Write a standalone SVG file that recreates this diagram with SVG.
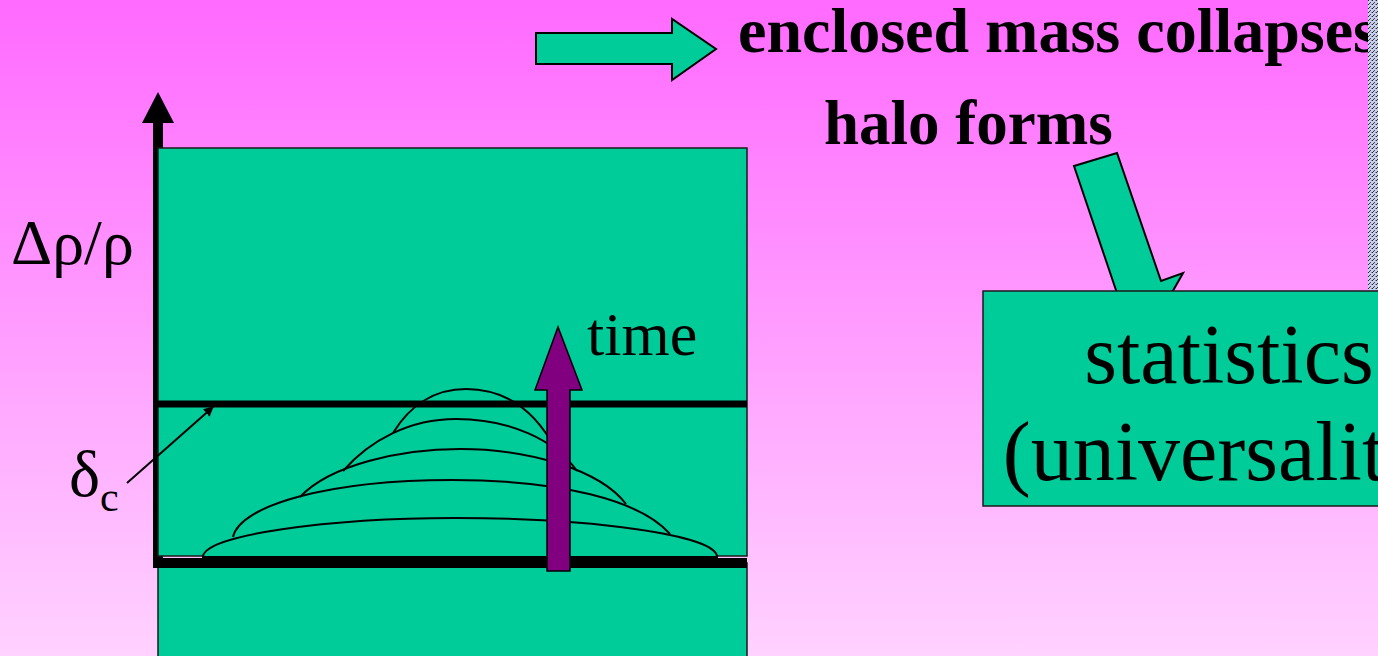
<svg xmlns="http://www.w3.org/2000/svg" width="1378" height="656" viewBox="0 0 1378 656">
<style>
.serif{font-family:"Liberation Serif","Times New Roman",serif;fill:#000}
.bold{font-weight:bold}
.green{fill:#00CC99;stroke:#1a1a1a;stroke-width:1.5}
.mound{fill:none;stroke:#000;stroke-width:2}
</style>
<defs>
<linearGradient id="bg" x1="0" y1="0" x2="0" y2="1">
<stop offset="0" stop-color="#FF6AFF"/>
<stop offset="0.5" stop-color="#FF9CFF"/>
<stop offset="1" stop-color="#FFD2FF"/>
</linearGradient>
<pattern id="dots" width="4" height="4" patternUnits="userSpaceOnUse">
<rect width="4" height="4" fill="#c9cfef"/>
<rect x="0" y="0" width="1" height="1" fill="#222"/>
<rect x="2" y="2" width="1" height="1" fill="#444"/>
<rect x="3" y="0" width="1" height="1" fill="#8890b0"/>
<rect x="1" y="3" width="1" height="1" fill="#333"/>
</pattern>
<marker id="ah" viewBox="0 0 10 10" refX="9" refY="5" markerWidth="10" markerHeight="10" markerUnits="userSpaceOnUse" orient="auto">
<path d="M0,0 L10,5 L0,10 Z" fill="#000"/>
</marker>
</defs>
<rect width="1378" height="656" fill="url(#bg)"/>

<g id="axis">
<line x1="158" y1="120" x2="158" y2="567" stroke="#000" stroke-width="10"/>
<polygon points="142,123 158,92 174,123" fill="#000"/>
</g>

<g id="plot">
<rect class="green" x="158" y="148" width="589" height="408"/>
<rect class="green" x="158" y="563" width="589" height="110"/>
</g>

<g id="mounds">
<path d="M203,557 C203,535 330,518 455,518 C590,518 717,535 717,557 Z" fill="#00CC99" stroke="#000" stroke-width="2"/>
<path class="mound" d="M233,537 C240,505 330,480 452,480 C560,480 640,500 670,534"/>
<path class="mound" d="M300,497 C330,465 400,449 460,449 C530,449 600,470 626,504"/>
<path class="mound" d="M343,471 C370,440 410,419 456,419 C510,419 555,440 577,471"/>
<path class="mound" d="M393,433 C410,405 435,389 466,389 C505,389 535,410 556,450"/>
</g>

<g id="lines">
<line x1="153" y1="404" x2="747" y2="404" stroke="#000" stroke-width="7"/>
<line x1="153" y1="563" x2="747" y2="563" stroke="#000" stroke-width="10"/>
</g>

<g id="connectors">
<line x1="127" y1="483" x2="213" y2="407" stroke="#000" stroke-width="2" marker-end="url(#ah)"/>
<polygon id="top-arrow" points="536,33 672,33 672,19 716,49 672,80 672,64 536,64" fill="#00CC99" stroke="#000" stroke-width="2"/>
<polygon id="tilt-arrow" points="1074,166 1117,153 1161,281 1183,273 1153,326 1097,303 1118,296" fill="#00CC99" stroke="#000" stroke-width="2"/>
<polygon id="time-arrow" points="547,571 547,390 535,390 558,327 582,390 570,390 570,571" fill="#800080" stroke="#000" stroke-width="1.5"/>
</g>

<g id="stats-box">
<rect class="green" x="983" y="291" width="500" height="215"/>
<text class="serif" x="1229" y="383" font-size="84" text-anchor="middle">statistics</text>
<text class="serif" x="1229" y="480" font-size="84" text-anchor="middle">(universality)</text>
</g>

<g id="labels">
<text class="serif bold" x="738" y="52" font-size="64">enclosed mass collapses</text>
<text class="serif bold" x="824" y="144" font-size="63">halo forms</text>
<text class="serif" x="587" y="355" font-size="62">time</text>
<text class="serif" x="11" y="264" font-size="64">Δρ/ρ</text>
<text class="serif" x="69" y="496" font-size="66">δ<tspan font-size="42" dy="15">c</tspan></text>
</g>
<rect x="1368" y="0" width="10" height="290" fill="url(#dots)"/>
</svg>
